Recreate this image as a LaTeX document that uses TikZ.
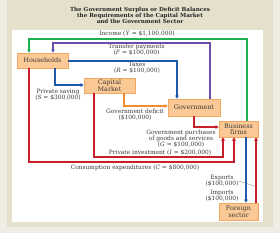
\documentclass[tikz,border=0pt]{standalone}
\usepackage{fontspec}
\setmainfont{DejaVu Serif}
\usetikzlibrary{arrows.meta}
\definecolor{bgA}{HTML}{EFEDE3}
\definecolor{bgB}{HTML}{E4E0CC}
\definecolor{boxfill}{HTML}{FBC995}
\definecolor{boxline}{HTML}{F2A762}
\definecolor{cgreen}{HTML}{1DB154}
\definecolor{cpurple}{HTML}{6B4DAE}
\definecolor{cblue}{HTML}{1E5AA8}
\definecolor{cred}{HTML}{C62128}
\definecolor{corange}{HTML}{F28C2E}
\definecolor{txt}{HTML}{3A3A3A}
\begin{document}
\begin{tikzpicture}[x=1pt,y=-1pt,
 sector/.style={draw=boxline, fill=boxfill, line width=0.6pt, inner sep=0pt, font=\fontsize{6.4}{6.4}\selectfont, text=txt, align=center},
 lbl/.style={font=\fontsize{5.9}{5.9}\selectfont, text=txt, align=center, inner sep=0pt},
 ttl/.style={font=\fontsize{5.6}{6}\selectfont\bfseries, text=black!85, align=center, inner sep=0pt},
 flow/.style={line width=1.1pt, -{Triangle[length=3.2pt,width=3.6pt]}},
]
\useasboundingbox (0,0) rectangle (280,233);
\fill[bgA] (0,0) rectangle (280,233);
\fill[bgB] (7,0) rectangle (273,227);
\fill[white] (12,30) rectangle (263,222);

\node[ttl] (title) at (140,15) {The Government Surplus or Deficit Balances\\the Requirements of the Capital Market\\and the Government Sector};

\node[sector, minimum width=51pt, minimum height=15pt] (hh) at (42.5,60.5) {Households};
\node[sector, minimum width=51pt, minimum height=15pt] (cm) at (109.5,85.5) {Capital\\Market};
\node[sector, minimum width=52pt, minimum height=17pt] (gov) at (194,107.5) {Government};
\node[sector, minimum width=39pt, minimum height=16pt] (bf) at (238.5,129) {Business\\firms};
\node[sector, minimum width=39pt, minimum height=17pt] (fs) at (238.5,211.5) {Foreign\\sector};

\node[lbl] (inc) at (137,34) {Income (\textit{Y} = \$1,100,000)};
\node[lbl] (tp) at (136.5,50) {Transfer payments\\(\textit{F} = \$100,000)};
\node[lbl] (tx) at (137,68) {Taxes\\(\textit{R} = \$100,000)};
\node[lbl] (ps) at (58,94.5) {Private saving\\(\textit{S} = \$300,000)};
\node[lbl] (gd) at (135,114.5) {Government deficit\\(\$100,000)};
\node[lbl] (gp) at (181,139) {Government purchases\\of goods and services\\(\textit{G} = \$100,000)};
\node[lbl] (pi) at (160,152.5) {Private investment (\textit{I} = \$200,000)};
\node[lbl] (ce) at (135,167.5) {Consumption expenditures (\textit{C} = \$800,000)};
\node[lbl] (ex) at (222,181) {Exports\\(\$100,000)};
\node[lbl] (im) at (222,196) {Imports\\(\$100,000)};

\coordinate (exend) at (254.5,186);

% income
\draw[flow,cgreen] (247,0 |- bf.north) -- (247,39) -- (29,39) -- (29,0 |- hh.north);
% transfers
\draw[flow,cpurple] (210,0 |- gov.north) -- (210,43) -- (53,43) -- (53,0 |- hh.north);
% taxes
\draw[flow,cblue] (hh.east |- 0,61) -- (177,61) -- (177,0 |- gov.north);
% saving
\draw[flow,cblue] (55,0 |- hh.south) -- (55,85) -- (cm.west |- 0,85);
% deficit
\draw[flow,corange] (124,0 |- cm.south) -- (124,106) -- (gov.west |- 0,106);
% government purchases
\draw[flow,cred] (gov.south) -- (194,127) -- (bf.west |- 0,127);
% consumption
\draw[flow,cred] (29,0 |- hh.south) -- (29,162) -- (234,162) -- (234,0 |- bf.south);
% investment
\draw[flow,cred] (94,0 |- cm.south) -- (94,157) -- (223,157) -- (223,0 |- bf.south);
% imports
\draw[flow,cblue] (246,0 |- bf.south) -- (246,0 |- fs.north);
% exports
\draw[flow,cred] (256,0 |- fs.north) -- (256,0 |- bf.south);
\draw[black!55, line width=0.3pt] (ex.east) -- (exend);
\end{tikzpicture}
\end{document}
